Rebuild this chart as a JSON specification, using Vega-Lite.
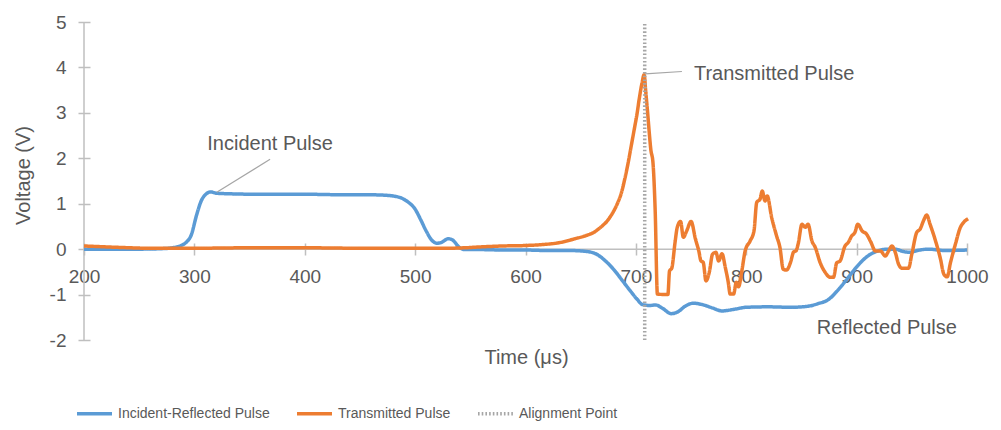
{
  "$schema": "https://vega.github.io/schema/vega-lite/v6.json",
  "width": 883,
  "height": 318,
  "autosize": {"type": "none"},
  "padding": {"left": 84, "top": 22, "right": 34, "bottom": 90},
  "background": "white",
  "config": {"view": {"stroke": null}, "font": "Liberation Sans"},
  "datasets": {
    "series": [
      {"series": "Incident-Reflected Pulse", "t": 200, "v": 0.0},
      {"series": "Incident-Reflected Pulse", "t": 220, "v": 0.0},
      {"series": "Incident-Reflected Pulse", "t": 250, "v": 0.0},
      {"series": "Incident-Reflected Pulse", "t": 270, "v": 0.01},
      {"series": "Incident-Reflected Pulse", "t": 280, "v": 0.03},
      {"series": "Incident-Reflected Pulse", "t": 288, "v": 0.08},
      {"series": "Incident-Reflected Pulse", "t": 293, "v": 0.16},
      {"series": "Incident-Reflected Pulse", "t": 297, "v": 0.3},
      {"series": "Incident-Reflected Pulse", "t": 302, "v": 0.75},
      {"series": "Incident-Reflected Pulse", "t": 306, "v": 1.05},
      {"series": "Incident-Reflected Pulse", "t": 310, "v": 1.2},
      {"series": "Incident-Reflected Pulse", "t": 315, "v": 1.26},
      {"series": "Incident-Reflected Pulse", "t": 320, "v": 1.23},
      {"series": "Incident-Reflected Pulse", "t": 330, "v": 1.22},
      {"series": "Incident-Reflected Pulse", "t": 350, "v": 1.21},
      {"series": "Incident-Reflected Pulse", "t": 375, "v": 1.21},
      {"series": "Incident-Reflected Pulse", "t": 400, "v": 1.21},
      {"series": "Incident-Reflected Pulse", "t": 425, "v": 1.2},
      {"series": "Incident-Reflected Pulse", "t": 450, "v": 1.2},
      {"series": "Incident-Reflected Pulse", "t": 470, "v": 1.19},
      {"series": "Incident-Reflected Pulse", "t": 480, "v": 1.17},
      {"series": "Incident-Reflected Pulse", "t": 488, "v": 1.12},
      {"series": "Incident-Reflected Pulse", "t": 494, "v": 1.03},
      {"series": "Incident-Reflected Pulse", "t": 500, "v": 0.88},
      {"series": "Incident-Reflected Pulse", "t": 505, "v": 0.65},
      {"series": "Incident-Reflected Pulse", "t": 510, "v": 0.4},
      {"series": "Incident-Reflected Pulse", "t": 515, "v": 0.2},
      {"series": "Incident-Reflected Pulse", "t": 520, "v": 0.13},
      {"series": "Incident-Reflected Pulse", "t": 524, "v": 0.15},
      {"series": "Incident-Reflected Pulse", "t": 530, "v": 0.23},
      {"series": "Incident-Reflected Pulse", "t": 534, "v": 0.2},
      {"series": "Incident-Reflected Pulse", "t": 540, "v": 0.04},
      {"series": "Incident-Reflected Pulse", "t": 545, "v": -0.01},
      {"series": "Incident-Reflected Pulse", "t": 560, "v": -0.01},
      {"series": "Incident-Reflected Pulse", "t": 580, "v": -0.02},
      {"series": "Incident-Reflected Pulse", "t": 600, "v": -0.02},
      {"series": "Incident-Reflected Pulse", "t": 620, "v": -0.03},
      {"series": "Incident-Reflected Pulse", "t": 640, "v": -0.03},
      {"series": "Incident-Reflected Pulse", "t": 655, "v": -0.05},
      {"series": "Incident-Reflected Pulse", "t": 665, "v": -0.12},
      {"series": "Incident-Reflected Pulse", "t": 672, "v": -0.25},
      {"series": "Incident-Reflected Pulse", "t": 680, "v": -0.45},
      {"series": "Incident-Reflected Pulse", "t": 688, "v": -0.7},
      {"series": "Incident-Reflected Pulse", "t": 695, "v": -0.92},
      {"series": "Incident-Reflected Pulse", "t": 701, "v": -1.1},
      {"series": "Incident-Reflected Pulse", "t": 706, "v": -1.22},
      {"series": "Incident-Reflected Pulse", "t": 712, "v": -1.24},
      {"series": "Incident-Reflected Pulse", "t": 718, "v": -1.23},
      {"series": "Incident-Reflected Pulse", "t": 724, "v": -1.3},
      {"series": "Incident-Reflected Pulse", "t": 732, "v": -1.42},
      {"series": "Incident-Reflected Pulse", "t": 738, "v": -1.38},
      {"series": "Incident-Reflected Pulse", "t": 745, "v": -1.25},
      {"series": "Incident-Reflected Pulse", "t": 752, "v": -1.19},
      {"series": "Incident-Reflected Pulse", "t": 760, "v": -1.22},
      {"series": "Incident-Reflected Pulse", "t": 770, "v": -1.3},
      {"series": "Incident-Reflected Pulse", "t": 778, "v": -1.36},
      {"series": "Incident-Reflected Pulse", "t": 790, "v": -1.32},
      {"series": "Incident-Reflected Pulse", "t": 800, "v": -1.28},
      {"series": "Incident-Reflected Pulse", "t": 820, "v": -1.27},
      {"series": "Incident-Reflected Pulse", "t": 840, "v": -1.28},
      {"series": "Incident-Reflected Pulse", "t": 855, "v": -1.26},
      {"series": "Incident-Reflected Pulse", "t": 865, "v": -1.2},
      {"series": "Incident-Reflected Pulse", "t": 875, "v": -1.1},
      {"series": "Incident-Reflected Pulse", "t": 882, "v": -0.93},
      {"series": "Incident-Reflected Pulse", "t": 890, "v": -0.7},
      {"series": "Incident-Reflected Pulse", "t": 898, "v": -0.45},
      {"series": "Incident-Reflected Pulse", "t": 905, "v": -0.26},
      {"series": "Incident-Reflected Pulse", "t": 912, "v": -0.12},
      {"series": "Incident-Reflected Pulse", "t": 918, "v": -0.05},
      {"series": "Incident-Reflected Pulse", "t": 928, "v": 0.0},
      {"series": "Incident-Reflected Pulse", "t": 935, "v": 0.0},
      {"series": "Incident-Reflected Pulse", "t": 942, "v": -0.05},
      {"series": "Incident-Reflected Pulse", "t": 948, "v": -0.07},
      {"series": "Incident-Reflected Pulse", "t": 955, "v": -0.03},
      {"series": "Incident-Reflected Pulse", "t": 965, "v": 0.0},
      {"series": "Incident-Reflected Pulse", "t": 980, "v": -0.03},
      {"series": "Incident-Reflected Pulse", "t": 1000, "v": -0.02},
      {"series": "Transmitted Pulse", "t": 200, "v": 0.07},
      {"series": "Transmitted Pulse", "t": 210, "v": 0.06},
      {"series": "Transmitted Pulse", "t": 230, "v": 0.04},
      {"series": "Transmitted Pulse", "t": 260, "v": 0.02},
      {"series": "Transmitted Pulse", "t": 300, "v": 0.02},
      {"series": "Transmitted Pulse", "t": 350, "v": 0.03},
      {"series": "Transmitted Pulse", "t": 400, "v": 0.03},
      {"series": "Transmitted Pulse", "t": 450, "v": 0.02},
      {"series": "Transmitted Pulse", "t": 500, "v": 0.02},
      {"series": "Transmitted Pulse", "t": 530, "v": 0.02},
      {"series": "Transmitted Pulse", "t": 545, "v": 0.03},
      {"series": "Transmitted Pulse", "t": 560, "v": 0.05},
      {"series": "Transmitted Pulse", "t": 580, "v": 0.07},
      {"series": "Transmitted Pulse", "t": 600, "v": 0.08},
      {"series": "Transmitted Pulse", "t": 615, "v": 0.1},
      {"series": "Transmitted Pulse", "t": 630, "v": 0.14},
      {"series": "Transmitted Pulse", "t": 645, "v": 0.23},
      {"series": "Transmitted Pulse", "t": 655, "v": 0.3},
      {"series": "Transmitted Pulse", "t": 662, "v": 0.37},
      {"series": "Transmitted Pulse", "t": 668, "v": 0.48},
      {"series": "Transmitted Pulse", "t": 674, "v": 0.62},
      {"series": "Transmitted Pulse", "t": 679, "v": 0.8},
      {"series": "Transmitted Pulse", "t": 683, "v": 0.99},
      {"series": "Transmitted Pulse", "t": 687, "v": 1.25},
      {"series": "Transmitted Pulse", "t": 690, "v": 1.55},
      {"series": "Transmitted Pulse", "t": 693, "v": 1.9},
      {"series": "Transmitted Pulse", "t": 696, "v": 2.3},
      {"series": "Transmitted Pulse", "t": 699, "v": 2.7},
      {"series": "Transmitted Pulse", "t": 701, "v": 2.97},
      {"series": "Transmitted Pulse", "t": 703, "v": 3.3},
      {"series": "Transmitted Pulse", "t": 705.5, "v": 3.65},
      {"series": "Transmitted Pulse", "t": 707.5, "v": 3.84},
      {"series": "Transmitted Pulse", "t": 709, "v": 3.45},
      {"series": "Transmitted Pulse", "t": 710.5, "v": 3.05},
      {"series": "Transmitted Pulse", "t": 712, "v": 2.6},
      {"series": "Transmitted Pulse", "t": 713.5, "v": 2.2},
      {"series": "Transmitted Pulse", "t": 715.5, "v": 1.9},
      {"series": "Transmitted Pulse", "t": 717.5, "v": 0.84},
      {"series": "Transmitted Pulse", "t": 719.5, "v": -0.99},
      {"series": "Transmitted Pulse", "t": 729, "v": -1.0},
      {"series": "Transmitted Pulse", "t": 730.5, "v": -0.48},
      {"series": "Transmitted Pulse", "t": 732.5, "v": -0.42},
      {"series": "Transmitted Pulse", "t": 735.5, "v": 0.15},
      {"series": "Transmitted Pulse", "t": 737.5, "v": 0.48},
      {"series": "Transmitted Pulse", "t": 740.5, "v": 0.61},
      {"series": "Transmitted Pulse", "t": 743, "v": 0.26},
      {"series": "Transmitted Pulse", "t": 746, "v": 0.4},
      {"series": "Transmitted Pulse", "t": 750, "v": 0.61},
      {"series": "Transmitted Pulse", "t": 754, "v": 0.22},
      {"series": "Transmitted Pulse", "t": 757, "v": -0.04},
      {"series": "Transmitted Pulse", "t": 759, "v": -0.26},
      {"series": "Transmitted Pulse", "t": 761, "v": -0.29},
      {"series": "Transmitted Pulse", "t": 763.5, "v": -0.7},
      {"series": "Transmitted Pulse", "t": 766.5, "v": -0.51},
      {"series": "Transmitted Pulse", "t": 769.5, "v": -0.11},
      {"series": "Transmitted Pulse", "t": 772.5, "v": -0.07},
      {"series": "Transmitted Pulse", "t": 775, "v": -0.26},
      {"series": "Transmitted Pulse", "t": 778, "v": -0.1},
      {"series": "Transmitted Pulse", "t": 781, "v": -0.4},
      {"series": "Transmitted Pulse", "t": 783.5, "v": -0.7},
      {"series": "Transmitted Pulse", "t": 785.5, "v": -0.99},
      {"series": "Transmitted Pulse", "t": 788.5, "v": -0.99},
      {"series": "Transmitted Pulse", "t": 791, "v": -0.73},
      {"series": "Transmitted Pulse", "t": 793, "v": -0.83},
      {"series": "Transmitted Pulse", "t": 796, "v": -0.48},
      {"series": "Transmitted Pulse", "t": 799, "v": -0.04},
      {"series": "Transmitted Pulse", "t": 803.5, "v": 0.18},
      {"series": "Transmitted Pulse", "t": 807, "v": 0.4},
      {"series": "Transmitted Pulse", "t": 809.5, "v": 1.03},
      {"series": "Transmitted Pulse", "t": 812.5, "v": 1.1},
      {"series": "Transmitted Pulse", "t": 814.5, "v": 1.28},
      {"series": "Transmitted Pulse", "t": 817, "v": 1.06},
      {"series": "Transmitted Pulse", "t": 819, "v": 1.17},
      {"series": "Transmitted Pulse", "t": 823, "v": 0.7},
      {"series": "Transmitted Pulse", "t": 827.5, "v": 0.29},
      {"series": "Transmitted Pulse", "t": 830.5, "v": 0.04},
      {"series": "Transmitted Pulse", "t": 833.5, "v": -0.44},
      {"series": "Transmitted Pulse", "t": 836.5, "v": -0.46},
      {"series": "Transmitted Pulse", "t": 840, "v": -0.3},
      {"series": "Transmitted Pulse", "t": 843, "v": -0.06},
      {"series": "Transmitted Pulse", "t": 845, "v": -0.04},
      {"series": "Transmitted Pulse", "t": 847, "v": 0.11},
      {"series": "Transmitted Pulse", "t": 850.5, "v": 0.55},
      {"series": "Transmitted Pulse", "t": 853.5, "v": 0.48},
      {"series": "Transmitted Pulse", "t": 856, "v": 0.55},
      {"series": "Transmitted Pulse", "t": 859.5, "v": 0.18},
      {"series": "Transmitted Pulse", "t": 862.5, "v": 0.04},
      {"series": "Transmitted Pulse", "t": 867, "v": -0.3},
      {"series": "Transmitted Pulse", "t": 871.5, "v": -0.51},
      {"series": "Transmitted Pulse", "t": 876, "v": -0.62},
      {"series": "Transmitted Pulse", "t": 879, "v": -0.62},
      {"series": "Transmitted Pulse", "t": 882, "v": -0.3},
      {"series": "Transmitted Pulse", "t": 885, "v": -0.26},
      {"series": "Transmitted Pulse", "t": 889.5, "v": 0.07},
      {"series": "Transmitted Pulse", "t": 892.5, "v": 0.15},
      {"series": "Transmitted Pulse", "t": 895.5, "v": 0.29},
      {"series": "Transmitted Pulse", "t": 898.5, "v": 0.37},
      {"series": "Transmitted Pulse", "t": 901, "v": 0.55},
      {"series": "Transmitted Pulse", "t": 905, "v": 0.4},
      {"series": "Transmitted Pulse", "t": 909, "v": 0.33},
      {"series": "Transmitted Pulse", "t": 913, "v": 0.15},
      {"series": "Transmitted Pulse", "t": 917, "v": -0.04},
      {"series": "Transmitted Pulse", "t": 921.5, "v": -0.04},
      {"series": "Transmitted Pulse", "t": 926, "v": -0.15},
      {"series": "Transmitted Pulse", "t": 929, "v": -0.04},
      {"series": "Transmitted Pulse", "t": 932, "v": 0.07},
      {"series": "Transmitted Pulse", "t": 935, "v": -0.07},
      {"series": "Transmitted Pulse", "t": 938, "v": -0.33},
      {"series": "Transmitted Pulse", "t": 941, "v": -0.42},
      {"series": "Transmitted Pulse", "t": 947, "v": -0.42},
      {"series": "Transmitted Pulse", "t": 950, "v": -0.11},
      {"series": "Transmitted Pulse", "t": 954.5, "v": 0.37},
      {"series": "Transmitted Pulse", "t": 957.5, "v": 0.44},
      {"series": "Transmitted Pulse", "t": 960.5, "v": 0.62},
      {"series": "Transmitted Pulse", "t": 963.5, "v": 0.75},
      {"series": "Transmitted Pulse", "t": 966.5, "v": 0.55},
      {"series": "Transmitted Pulse", "t": 971, "v": 0.22},
      {"series": "Transmitted Pulse", "t": 976, "v": -0.22},
      {"series": "Transmitted Pulse", "t": 979, "v": -0.55},
      {"series": "Transmitted Pulse", "t": 982, "v": -0.61},
      {"series": "Transmitted Pulse", "t": 985, "v": -0.3},
      {"series": "Transmitted Pulse", "t": 989.5, "v": 0.11},
      {"series": "Transmitted Pulse", "t": 994, "v": 0.48},
      {"series": "Transmitted Pulse", "t": 997, "v": 0.59},
      {"series": "Transmitted Pulse", "t": 1001, "v": 0.67},
      {"series": "Alignment Point", "t": 708, "v": -2},
      {"series": "Alignment Point", "t": 708, "v": 5}
    ],
    "notes": [
      {"t": 825.3, "v": 3.86, "label": "Transmitted Pulse"},
      {"t": 368.6, "v": 2.31, "label": "Incident Pulse"},
      {"t": 927.4, "v": -1.73, "label": "Reflected Pulse"}
    ],
    "leaders": [
      {"t": 708.4, "v": 3.86, "t2": 741.7, "v2": 3.91},
      {"t": 368.6, "v": 1.98, "t2": 320.3, "v2": 1.25}
    ],
    "frame": [
      {"t": 200, "v": -2, "t2": 200, "v2": 5},
      {"t": 200, "v": 0, "t2": 1000, "v2": 0}
    ]
  },
  "layer": [
    {
      "data": {"name": "frame"},
      "mark": {"type": "rule", "color": "#BFBFBF", "strokeWidth": 1.5},
      "encoding": {
        "x": {"field": "t", "type": "quantitative", "title": "Time (μs)"},
        "y": {"field": "v", "type": "quantitative", "title": "Voltage (V)"},
        "x2": {"field": "t2"},
        "y2": {"field": "v2"}
      }
    },
    {
      "data": {"name": "series"},
      "mark": {"type": "line", "interpolate": "monotone", "strokeJoin": "round"},
      "encoding": {
        "x": {
          "field": "t", "type": "quantitative", "title": "Time (μs)",
          "scale": {"domain": [200, 1000], "nice": false, "zero": false},
          "axis": {
            "values": [200, 300, 400, 500, 600, 700, 800, 900, 1000],
            "labelExpr": "'' + datum.value",
            "domain": false, "grid": false, "offset": -97,
            "tickSize": 12, "tickColor": "#BFBFBF", "tickWidth": 1.5,
            "labelFontSize": 19, "labelColor": "#595959", "labelPadding": 12,
            "labelFlush": false, "labelOverlap": false,
            "titleFontSize": 20, "titleFontWeight": "normal", "titleColor": "#595959",
            "titleX": 442, "titleY": 114, "titleBaseline": "middle"
          }
        },
        "y": {
          "field": "v", "type": "quantitative", "title": "Voltage (V)",
          "scale": {"domain": [-2, 5], "nice": false, "zero": false},
          "axis": {
            "values": [-2, -1, 0, 1, 2, 3, 4, 5],
            "labelExpr": "'' + datum.value",
            "domain": false, "grid": false, "offset": -6,
            "tickSize": 12, "tickColor": "#BFBFBF", "tickWidth": 1.5,
            "labelFontSize": 19, "labelColor": "#595959", "labelPadding": 12,
            "labelFlush": false, "labelOverlap": false,
            "titleFontSize": 20, "titleFontWeight": "normal", "titleColor": "#595959",
            "titleX": -67, "titleY": 153, "titleBaseline": "middle"
          }
        },
        "color": {
          "field": "series", "type": "nominal",
          "scale": {
            "domain": ["Incident-Reflected Pulse", "Transmitted Pulse", "Alignment Point"],
            "range": ["#5B9BD5", "#ED7D31", "#A6A6A6"]
          },
          "legend": {
            "title": null, "orient": "none", "legendX": -9, "legendY": 372,
            "direction": "horizontal", "symbolType": "stroke", "symbolSize": 1225,
            "labelFontSize": 14, "labelLimit": 400,
            "labelColor": "#595959", "columnPadding": 20, "labelOffset": 4
          }
        },
        "strokeDash": {
          "field": "series", "type": "nominal",
          "scale": {
            "domain": ["Incident-Reflected Pulse", "Transmitted Pulse", "Alignment Point"],
            "range": [[1, 0], [1, 0], [1.6, 2.1]]
          },
          "legend": {"title": null}
        },
        "strokeWidth": {
          "field": "series", "type": "nominal",
          "scale": {
            "domain": ["Incident-Reflected Pulse", "Transmitted Pulse", "Alignment Point"],
            "range": [3.5, 3.5, 2.2]
          },
          "legend": {"title": null}
        }
      }
    },
    {
      "data": {"name": "leaders"},
      "mark": {"type": "rule", "color": "#A6A6A6", "strokeWidth": 1.2},
      "encoding": {
        "x": {"field": "t", "type": "quantitative", "title": "Time (μs)"},
        "y": {"field": "v", "type": "quantitative", "title": "Voltage (V)"},
        "x2": {"field": "t2"},
        "y2": {"field": "v2"}
      }
    },
    {
      "data": {"name": "notes"},
      "mark": {"type": "text", "fontSize": 20, "color": "#595959", "align": "center", "baseline": "middle"},
      "encoding": {
        "x": {"field": "t", "type": "quantitative", "title": "Time (μs)"},
        "y": {"field": "v", "type": "quantitative", "title": "Voltage (V)"},
        "text": {"field": "label"}
      }
    }
  ]
}
